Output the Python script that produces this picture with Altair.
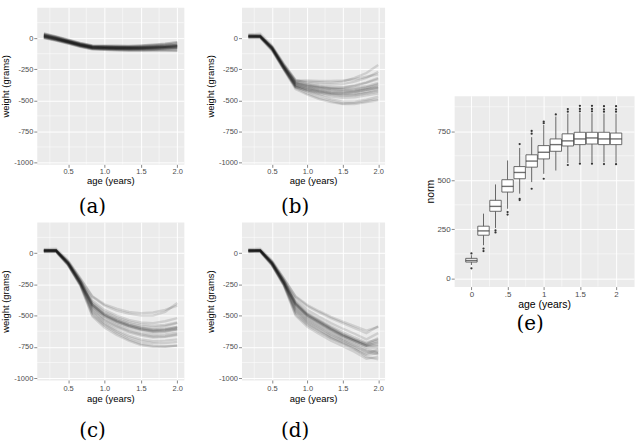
import altair as alt
import pandas as pd

# ---------------- data ----------------
AGES = [0.167, 0.333, 0.5, 0.667, 0.833, 1.0, 1.167, 1.333, 1.5, 1.667, 1.833, 2.0]

CURVES_A = [
    [38, 15, -12, -38, -58, -60, -61, -62, -58, -52, -44, -32],
    [0, -20, -44, -70, -90, -94, -97, -99, -100, -100, -100, -102],
    [28, 6, -20, -46, -66, -69, -71, -72, -70, -66, -61, -54],
    [8, -12, -36, -62, -82, -85, -88, -90, -89, -87, -84, -80],
    [18, -3, -28, -54, -74, -77, -79, -80, -79, -76, -72, -66],
    [33, 10, -16, -42, -62, -64, -66, -67, -64, -59, -52, -42],
    [4, -16, -40, -66, -86, -90, -93, -95, -95, -94, -92, -90],
    [22, 0, -25, -51, -71, -74, -76, -77, -76, -73, -69, -62],
    [14, -6, -31, -57, -77, -80, -82, -83, -83, -80, -77, -72],
    [25, 3, -23, -49, -69, -71, -73, -74, -72, -68, -63, -55],
    [11, -9, -34, -60, -80, -83, -85, -87, -86, -84, -80, -76],
    [18, -3, -29, -54, -73, -76, -78, -79, -78, -75, -70, -64],
]

CURVES_B = [
    [20, 18, -70, -215, -345, -350, -355, -360, -350, -320, -280, -215],
    [10, 12, -85, -240, -390, -430, -460, -490, -510, -510, -495, -470],
    [15, 15, -75, -225, -365, -385, -400, -410, -410, -400, -385, -360],
    [18, 20, -80, -235, -375, -400, -420, -435, -440, -430, -415, -395],
    [12, 10, -90, -245, -395, -420, -440, -455, -465, -460, -445, -430],
    [25, 22, -65, -210, -340, -340, -345, -345, -340, -330, -310, -290],
    [5, 8, -95, -250, -400, -445, -480, -505, -525, -520, -505, -490],
    [15, 15, -80, -230, -370, -395, -415, -425, -430, -425, -410, -390],
    [20, 15, -78, -228, -360, -375, -390, -400, -400, -385, -360, -330],
    [10, 12, -82, -238, -385, -410, -430, -445, -445, -435, -415, -400],
    [15, 18, -72, -222, -355, -380, -395, -405, -415, -410, -395, -370],
    [8, 10, -88, -242, -380, -415, -435, -450, -460, -455, -440, -420],
    [30, 35, -60, -205, -335, -360, -370, -375, -370, -350, -320, -270],
    [0, 2, -100, -255, -410, -455, -490, -515, -530, -530, -515, -500],
    [22, 25, -72, -220, -350, -370, -385, -395, -395, -380, -355, -320],
    [12, 15, -85, -236, -378, -405, -425, -440, -448, -445, -430, -410],
    [18, 14, -76, -226, -362, -388, -405, -418, -425, -418, -400, -375],
    [5, 5, -92, -248, -392, -425, -450, -470, -480, -475, -460, -445],
]

CURVES_C = [
    [25, 25, -65, -205, -350, -420, -460, -485, -500, -500, -470, -400],
    [15, 15, -95, -255, -495, -580, -640, -690, -725, -740, -745, -740],
    [20, 22, -75, -220, -400, -480, -525, -560, -585, -595, -585, -560],
    [18, 18, -85, -240, -430, -510, -560, -595, -620, -635, -630, -610],
    [22, 20, -78, -228, -410, -490, -535, -570, -595, -610, -605, -590],
    [12, 14, -90, -248, -460, -545, -595, -635, -660, -675, -670, -655],
    [25, 24, -70, -215, -380, -455, -500, -535, -555, -560, -545, -520],
    [20, 20, -82, -235, -425, -505, -550, -585, -610, -625, -620, -605],
    [16, 18, -88, -242, -440, -525, -575, -615, -640, -655, -650, -635],
    [22, 22, -76, -225, -415, -495, -540, -575, -600, -615, -610, -590],
    [18, 20, -80, -232, -418, -500, -548, -585, -612, -628, -625, -612],
    [14, 16, -92, -250, -470, -560, -615, -660, -690, -705, -700, -690],
    [30, 35, -60, -200, -345, -410, -445, -470, -480, -475, -455, -420],
    [5, 8, -100, -262, -505, -595, -655, -700, -735, -750, -750, -740],
    [20, 24, -72, -218, -395, -470, -515, -548, -570, -580, -575, -555],
    [14, 18, -86, -244, -448, -535, -585, -625, -650, -668, -665, -650],
    [24, 20, -79, -230, -412, -492, -540, -578, -603, -618, -612, -598],
    [10, 12, -94, -252, -480, -570, -628, -675, -705, -720, -720, -710],
]

CURVES_D = [
    [25, 25, -65, -205, -350, -425, -475, -520, -560, -600, -640, -585],
    [15, 15, -95, -255, -490, -575, -630, -680, -720, -765, -830, -850],
    [20, 22, -75, -220, -395, -485, -540, -595, -645, -690, -730, -700],
    [18, 18, -85, -240, -425, -515, -570, -625, -675, -715, -755, -760],
    [22, 20, -78, -228, -405, -495, -550, -605, -655, -695, -735, -720],
    [12, 14, -90, -248, -455, -545, -600, -655, -700, -745, -790, -810],
    [25, 24, -70, -215, -370, -455, -510, -560, -605, -645, -690, -640],
    [20, 20, -82, -235, -415, -505, -560, -615, -665, -705, -745, -745],
    [16, 18, -88, -242, -435, -525, -580, -635, -685, -725, -770, -790],
    [22, 22, -76, -225, -400, -490, -545, -600, -650, -690, -725, -680],
    [18, 20, -80, -232, -412, -502, -558, -612, -662, -702, -742, -735],
    [14, 16, -92, -250, -465, -555, -612, -668, -712, -755, -805, -770],
    [30, 35, -60, -200, -345, -415, -465, -510, -548, -585, -620, -590],
    [5, 8, -100, -262, -500, -590, -648, -700, -745, -790, -845, -830],
    [20, 24, -72, -218, -390, -478, -532, -585, -632, -675, -715, -690],
    [14, 18, -86, -244, -445, -535, -592, -648, -695, -738, -782, -795],
    [24, 20, -79, -230, -408, -498, -553, -608, -658, -700, -740, -712],
    [10, 12, -94, -252, -475, -565, -622, -678, -725, -770, -815, -800],
]

CURVE_XTICKS = [0.5, 1.0, 1.5, 2.0]
CURVE_XMINOR = [0.25, 0.75, 1.25, 1.75]
CURVE_YTICKS = [0, -250, -500, -750, -1000]
CURVE_YMINOR = [125, -125, -375, -625, -875]

BOX_AGE = [0, 0.167, 0.333, 0.5, 0.667, 0.833, 1.0, 1.167, 1.333, 1.5, 1.667, 1.833, 2.0]
WHISK_LO = [68, 169, 257, 355, 432, 491, 533, 550, 588, 592, 592, 592, 590]
Q1 = [83, 220, 342, 440, 508, 567, 609, 648, 675, 682, 685, 682, 682]
MEDIAN = [91, 242, 367, 469, 540, 598, 643, 682, 701, 711, 716, 711, 711]
Q3 = [102, 266, 398, 503, 570, 630, 677, 711, 737, 745, 745, 745, 741]
WHISK_HI = [118, 330, 479, 601, 665, 720, 782, 825, 840, 842, 842, 840, 840]

OUT_AGE = [0, 0, 0.167, 0.167, 0.333, 0.333, 0.5, 0.5,
           0.667, 0.667, 0.667, 0.833, 0.833, 0.833, 1.0, 1.0, 1.0,
           1.167, 1.333, 1.333, 1.333,
           1.5, 1.5, 1.5, 1.5, 1.667, 1.667, 1.667, 1.667,
           1.833, 1.833, 1.833, 1.833, 2.0, 2.0, 2.0, 2.0]
OUT_VAL = [127, 51, 152, 139, 245, 234, 338, 325,
           685, 406, 399, 752, 738, 457, 799, 791, 508,
           836, 863, 850, 578,
           880, 864, 852, 585, 880, 864, 852, 585,
           878, 862, 850, 583, 878, 862, 850, 582]

E_XTICKS = [0, 0.5, 1, 1.5, 2]
E_XLABELS = ["0", ".5", "1", "1.5", "2"]
E_XMINOR = [0.25, 0.75, 1.25, 1.75]
E_YTICKS = [0, 250, 500, 750]
E_YMINOR = [125, 375, 625, 875]

# ---------------- style ----------------
PANEL_BG = "#EBEBEB"
SANS = "Liberation Sans"
SERIF = "DejaVu Serif"
CAP_SIZE = 20


def caption(txt, offset):
    return alt.Title(txt, orient="bottom", font=SERIF, fontSize=CAP_SIZE,
                     fontWeight="normal", color="black", offset=offset,
                     frame="bounds", anchor="middle")


def axis_common(values, title, label_size, title_size, label_expr,
                title_pad, label_pad=1):
    return alt.Axis(values=values, title=title, grid=True, gridColor="white",
                    gridWidth=1.0, domain=False, tickColor="#555555",
                    tickSize=3, tickWidth=0.7, labelColor="#4D4D4D",
                    labelFont=SANS, labelFontSize=label_size,
                    labelPadding=label_pad,
                    titleFont=SANS, titleFontSize=title_size,
                    titleFontWeight="normal", titleColor="black",
                    titlePadding=title_pad, labelExpr=label_expr,
                    labelFlush=False, labelOverlap=False)


def curve_panel(curves, cap, w, h, xlabel_pad, cap_off, opac):
    rows = []
    for i, c in enumerate(curves):
        for a, v in zip(AGES, c):
            rows.append({"age": a, "weight": v, "id": i})
    df = pd.DataFrame(rows)
    xs = alt.Scale(domain=[0.07, 2.09], nice=False, zero=False)
    ys = alt.Scale(domain=[-1015, 248], nice=False, zero=False)
    xax = axis_common(CURVE_XTICKS, "age (years)", 7.5, 9.5,
                      "format(datum.value, '.1f')", 1, xlabel_pad)
    yax = axis_common(CURVE_YTICKS, "weight (grams)", 7.5, 9.5,
                      "toString(datum.value)", 3)
    X = alt.X("age:Q", scale=xs, axis=xax)
    Y = alt.Y("weight:Q", scale=ys, axis=yax)
    mx = alt.Chart(pd.DataFrame({"age": CURVE_XMINOR})).mark_rule(
        color="white", strokeWidth=0.5).encode(x=X)
    my = alt.Chart(pd.DataFrame({"weight": CURVE_YMINOR})).mark_rule(
        color="white", strokeWidth=0.5).encode(y=Y)
    lines = alt.Chart(df).mark_line(color="black", opacity=opac,
                                    strokeWidth=2.4).encode(
        x=X, y=Y, detail="id:N")
    return alt.layer(mx, my, lines).properties(
        width=w, height=h, title=caption(cap, cap_off),
        view=alt.ViewBackground(fill=PANEL_BG, stroke="transparent"))


def box_panel(w, h):
    bdf = pd.DataFrame({"age": BOX_AGE, "lo": WHISK_LO, "q1": Q1,
                        "med": MEDIAN, "q3": Q3, "hi": WHISK_HI})
    odf = pd.DataFrame({"age": OUT_AGE, "norm": OUT_VAL})
    xs = alt.Scale(domain=[-0.17, 2.18], nice=False, zero=False)
    ys = alt.Scale(domain=[-42, 931], nice=False, zero=False)
    lab = " : ".join(
        f"datum.value == {v} ? '{l}'" for v, l in zip(E_XTICKS, E_XLABELS)
    ) + " : ''"
    xax = axis_common(E_XTICKS, "age (years)", 8, 10.5, lab, 1)
    yax = axis_common(E_YTICKS, "norm", 8, 10.5, "toString(datum.value)", 1)
    X = alt.X("age:Q", scale=xs, axis=xax)
    mx = alt.Chart(pd.DataFrame({"age": E_XMINOR})).mark_rule(
        color="white", strokeWidth=0.5).encode(x=X)
    my = alt.Chart(pd.DataFrame({"norm": E_YMINOR})).mark_rule(
        color="white", strokeWidth=0.5).encode(
        y=alt.Y("norm:Q", scale=ys, axis=yax))
    whisk = alt.Chart(bdf).mark_rule(color="#444444", strokeWidth=0.8).encode(
        x=X, y=alt.Y("lo:Q", scale=ys, axis=yax), y2="hi:Q")
    box = alt.Chart(bdf).mark_bar(size=11.5, fill="white", stroke="#5a5a5a",
                                  strokeWidth=0.9).encode(
        x=X, y=alt.Y("q1:Q", scale=ys, axis=yax), y2="q3:Q")
    med = alt.Chart(bdf).mark_tick(orient="horizontal", size=11.5,
                                   thickness=1.4, color="#333333").encode(
        x=X, y=alt.Y("med:Q", scale=ys, axis=yax))
    outs = alt.Chart(odf).mark_circle(size=5, color="#333333",
                                      opacity=1).encode(
        x=X, y=alt.Y("norm:Q", scale=ys, axis=yax))
    return alt.layer(mx, my, whisk, box, med, outs).properties(
        width=w, height=h, title=caption("(e)", 4),
        view=alt.ViewBackground(fill=PANEL_BG, stroke="transparent"))


pa = curve_panel(CURVES_A, "(a)", 148, 158, 0, 12, 0.22)
pb = curve_panel(CURVES_B, "(b)", 144, 158, 0, 12, 0.12)
pc = curve_panel(CURVES_C, "(c)", 148, 159, 2, 18, 0.12)
pd_ = curve_panel(CURVES_D, "(d)", 144, 159, 2, 18, 0.12)
pe = box_panel(181, 192)

spacer = alt.Chart(pd.DataFrame({"v": [0]})).mark_point(opacity=0).encode(
    x=alt.X("v:Q", axis=None), y=alt.Y("v:Q", axis=None)
).properties(width=10, height=87,
             view=alt.ViewBackground(fill="transparent", stroke="transparent"))

left = alt.vconcat(alt.hconcat(pa, pb, spacing=20),
                   alt.hconcat(pc, pd_, spacing=20), spacing=3)
right = alt.vconcat(spacer, pe, spacing=0)

chart = alt.hconcat(left, right, spacing=40).properties(
    padding={"left": 0, "top": 5, "right": 5, "bottom": 0},
    background="white",
).configure_view(stroke="transparent").configure_concat(spacing=0)

chart.save("out.html", embed_options={"renderer": "svg", "actions": False})
